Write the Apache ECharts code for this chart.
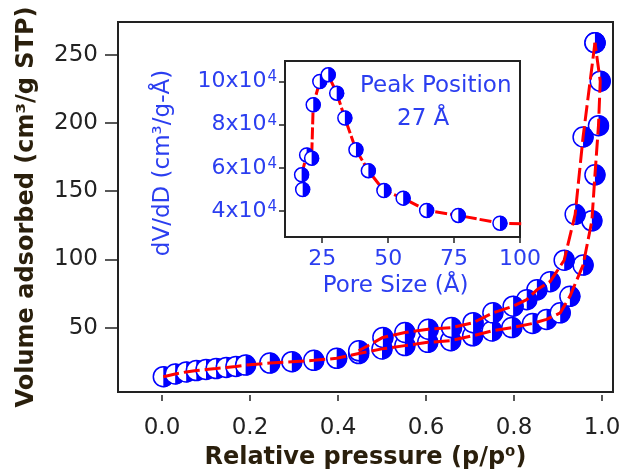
<!DOCTYPE html>
<html>
<head>
    <meta charset="utf-8">
    <title>N2 isotherm</title>
    <script src="https://cdn.jsdelivr.net/npm/echarts@6/dist/echarts.min.js"></script>
    <style>
        html, body { margin: 0; padding: 0; background: #fff; }
        #container { width: 630px; height: 475px; }
    </style>
</head>
<body>
<div id="container"></div>
<script>
    // 吸附支 (lower branch)
    var adsP = [0.003, 0.03, 0.055, 0.078, 0.1, 0.123, 0.146, 0.168, 0.19, 0.245, 0.295, 0.345, 0.397, 0.447,
        0.5, 0.552, 0.604, 0.656, 0.706, 0.75, 0.795, 0.842, 0.874, 0.905, 0.927, 0.957, 0.977, 0.984, 0.992, 0.996, 0.984];
    var adsV = [14, 16, 17.5, 18.5, 19.3, 20, 20.8, 21.5, 22.5, 24, 25, 26, 27.5, 31,
        34.4, 36.8, 39.2, 40.4, 44, 47.6, 50, 53, 56, 60.8, 72.9, 95.8, 128.3, 162, 198, 230.6, 258.8];
    // 脱附支 (upper branch)
    var desP = [0.984, 0.957, 0.939, 0.914, 0.882, 0.852, 0.829, 0.798, 0.752, 0.707, 0.658, 0.605, 0.552, 0.502, 0.447];
    var desV = [258.8, 189.7, 133, 99.4, 83.7, 77.7, 70.5, 65.7, 60.8, 53.6, 50, 48.8, 46.4, 42.8, 33];
    // 孔径分布 (inset)
    var poreD = [17.6, 17.2, 19.1, 21.0, 21.6, 24.1, 27.3, 30.5, 33.6, 37.8, 42.5, 48.4, 55.7, 64.6, 76.6, 92.4, 105];
    var poreDV = [50000, 56800, 66000, 64500, 89200, 100000, 103100, 94600, 83100, 68400, 58700, 49500, 46000, 40300, 38000, 34400, 34000];

    var pTicks = [0, 0.2, 0.4, 0.6, 0.8, 1.0];
    var vTicks = [50, 100, 150, 200, 250];
    var dTicks = [25, 50, 75, 100];
    var dvTicks = [40000, 60000, 80000, 100000];

    var BLUE = '#0000ff', TXT_BLUE = '#2b3ef0', RED = '#ff0000';

    function zip(a, b) {
        return a.map(function (v, i) { return [v, b[i]]; });
    }

    // 半实心圆点: 左白右蓝
    function halfDot(r) {
        return function (params, api) {
            var pt = api.coord([api.value(0), api.value(1)]);
            return {
                type: 'group',
                children: [
                    {type: 'circle', shape: {cx: pt[0], cy: pt[1], r: r},
                        style: {fill: '#fff', stroke: BLUE, lineWidth: 1.5}},
                    {type: 'sector', shape: {cx: pt[0], cy: pt[1], r: r + 0.5, r0: 0,
                            startAngle: -Math.PI / 2, endAngle: Math.PI / 2, clockwise: true},
                        style: {fill: BLUE}}
                ]
            };
        };
    }

    var chart = echarts.init(document.getElementById('container'));
    var option = {
        animation: false,
        textStyle: {fontFamily: 'DejaVu Sans'},
        grid: [
            {left: 118, right: 17, top: 22, bottom: 78, show: true, borderColor: '#222', borderWidth: 2,
                backgroundColor: '#fff'},
            {left: 285, right: 110, top: 61, bottom: 238, show: true, borderColor: '#222', borderWidth: 2,
                backgroundColor: '#fff', z: 5}
        ],
        xAxis: [
            {
                type: 'value', gridIndex: 0, min: -0.1, max: 1.025, offset: 3,
                name: 'Relative pressure (p/p\u2070)', nameLocation: 'middle', nameGap: 51,
                nameTextStyle: {fontSize: 24, fontWeight: 'bold', color: '#2a1f0c', fontFamily: 'DejaVu Sans'},
                axisLine: {show: false, onZero: false},
                axisTick: {show: true, length: 6, lineStyle: {color: '#222', width: 1.5}, customValues: pTicks},
                axisLabel: {color: '#222', fontSize: 23, margin: 22, customValues: pTicks,
                    formatter: function (v) { return v.toFixed(1); }},
                splitLine: {show: false}
            },
            {
                type: 'value', gridIndex: 1, min: 10.9, max: 100,
                name: 'Pore Size (\u00c5)', nameLocation: 'middle', nameGap: 38,
                nameTextStyle: {fontSize: 23, color: TXT_BLUE, padding: [0, 14, 0, 0]},
                axisLine: {show: false, onZero: false},
                axisTick: {show: true, length: 6, lineStyle: {color: '#222', width: 1.5}, customValues: dTicks},
                axisLabel: {color: TXT_BLUE, fontSize: 22, margin: 11, customValues: dTicks},
                splitLine: {show: false}
            }
        ],
        yAxis: [
            {
                type: 'value', gridIndex: 0, min: 2.8, max: 274,
                name: 'Volume adsorbed (cm\u00b3/g STP)', nameLocation: 'middle', nameGap: 79,
                nameTextStyle: {fontSize: 24, fontWeight: 'bold', color: '#2a1f0c', fontFamily: 'DejaVu Sans'},
                axisLine: {show: false, onZero: false},
                axisTick: {show: true, length: 13, lineStyle: {color: '#222', width: 1.5}, customValues: vTicks},
                axisLabel: {color: '#222', fontSize: 23, margin: 20, customValues: vTicks},
                splitLine: {show: false}
            },
            {
                type: 'value', gridIndex: 1, min: 28000, max: 109500,
                name: 'dV/dD (cm\u00b3/g-\u00c5)', nameLocation: 'middle', nameGap: 110,
                nameTextStyle: {fontSize: 23, color: TXT_BLUE, padding: [0, 28, 0, 0]},
                axisLine: {show: false, onZero: false},
                axisTick: {show: true, length: 6, lineStyle: {color: '#222', width: 1.5}, customValues: dvTicks},
                axisLabel: {margin: 8, customValues: dvTicks,
                    formatter: function (v) { return '{n|' + (v / 10000) + 'x10}{s|4}'; },
                    rich: {
                        n: {fontSize: 22, color: TXT_BLUE, fontFamily: 'DejaVu Sans'},
                        s: {fontSize: 15, color: TXT_BLUE, fontFamily: 'DejaVu Sans', verticalAlign: 'top', padding: [0, 0, 8, 1]}
                    }},
                splitLine: {show: false}
            }
        ],
        graphic: [
            {type: 'text', left: 360, top: 75, z: 100,
                style: {text: 'Peak Position', fontSize: 23, fill: TXT_BLUE, fontFamily: 'DejaVu Sans'}},
            {type: 'text', left: 397, top: 108, z: 100,
                style: {text: '27 \u00c5', fontSize: 23, fill: TXT_BLUE, fontFamily: 'DejaVu Sans'}}
        ],
        series: [
            {type: 'line', xAxisIndex: 0, yAxisIndex: 0, data: zip(adsP, adsV), symbol: 'none',
                lineStyle: {color: RED, width: 3, type: [16, 5]}},
            {type: 'line', xAxisIndex: 0, yAxisIndex: 0, data: zip(desP, desV), symbol: 'none',
                lineStyle: {color: RED, width: 3, type: [16, 5]}},
            {type: 'custom', xAxisIndex: 0, yAxisIndex: 0, data: zip(adsP, adsV), renderItem: halfDot(10), z: 3},
            {type: 'custom', xAxisIndex: 0, yAxisIndex: 0, data: zip(desP, desV), renderItem: halfDot(10), z: 3},
            {type: 'line', xAxisIndex: 1, yAxisIndex: 1, data: zip(poreD, poreDV), symbol: 'none', z: 6,
                lineStyle: {color: RED, width: 3, type: [12, 3]}},
            {type: 'custom', xAxisIndex: 1, yAxisIndex: 1, data: zip(poreD, poreDV), renderItem: halfDot(7),
                clip: true, z: 7}
        ]
    };
    chart.setOption(option);
</script>
</body>
</html>
